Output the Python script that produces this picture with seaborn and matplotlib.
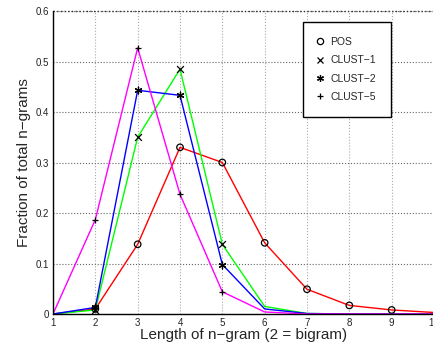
import numpy as np
import pandas as pd
import matplotlib
matplotlib.use("Agg")
import matplotlib.pyplot as plt
from matplotlib.lines import Line2D
import seaborn as sns

# ---- data ----
ngram_len = [1, 2, 3, 4, 5, 6, 7, 8, 9, 10]
pos    = [0.0, 0.010, 0.138, 0.330, 0.300, 0.141, 0.049, 0.017, 0.008, 0.003]
clust1 = [0.0, 0.008, 0.350, 0.485, 0.138, 0.015, 0.001, 0.0, 0.0, 0.0]
clust2 = [0.0, 0.013, 0.443, 0.433, 0.098, 0.010, 0.001, 0.0, 0.0, 0.0]
clust5 = [0.0, 0.187, 0.527, 0.237, 0.044, 0.004, 0.0, 0.0, 0.0, 0.0]
series_names = ["POS", "CLUST\u22121", "CLUST\u22122", "CLUST\u22125"]
line_colors = ["#ff0000", "#00ff00", "#0000ff", "#ff00ff"]
marker_shapes = ["o", "x", (6, 2, 0), "+"]
marker_ranges = [(2, 9), (2, 5), (2, 5), (2, 5)]
yticks = [0, 0.1, 0.2, 0.3, 0.4, 0.5, 0.6]
yticklabels = ["0", "0.1", "0.2", "0.3", "0.4", "0.5", "0.6"]
xticks = [1, 2, 3, 4, 5, 6, 7, 8, 9, 10]

values = [pos, clust1, clust2, clust5]
rows = []
for name, vals in zip(series_names, values):
    for x, v in zip(ngram_len, vals):
        rows.append({"len": x, "frac": v, "series": name})
df = pd.DataFrame(rows)

sns.set_style("white")
plt.rcParams["font.family"] = ["Liberation Sans", "DejaVu Sans"]

fig = plt.figure(figsize=(4.33, 3.43), dpi=100)
W, H = 433, 343
ax = fig.add_axes([53 / W, (H - 314) / H, (434 - 53) / W, (314 - 11) / H])

sns.lineplot(data=df, x="len", y="frac", hue="series", hue_order=series_names,
             palette=line_colors, linewidth=1.0, legend=False, ax=ax)

for name, shape, (lo, hi) in zip(series_names, marker_shapes, marker_ranges):
    sub = df[(df.series == name) & (df.len >= lo) & (df.len <= hi)]
    if shape == "o":
        ax.scatter(sub["len"], sub["frac"], marker="o", s=22, facecolors="none",
                   edgecolors="black", linewidths=0.9, zorder=5, clip_on=False)
    else:
        ax.scatter(sub["len"], sub["frac"], marker=shape, s=24, c="black",
                   linewidths=0.9, zorder=5, clip_on=False)

ax.set_xlim(1, 10)
ax.set_ylim(0, 0.6)
ax.set_xticks(xticks)
ax.set_xticklabels([str(t) for t in xticks], fontsize=7)
ax.set_yticks(yticks)
ax.set_yticklabels(yticklabels, fontsize=7)
ax.tick_params(direction="in", length=3, width=0.8, color="black", pad=3,
               labelcolor="#222222")

ax.grid(True, axis="x", linestyle=":", color="#aaaaaa", linewidth=0.8)
ax.grid(True, axis="y", linestyle=":", color="#666666", linewidth=0.8)

ax.spines["left"].set_color("black")
ax.spines["bottom"].set_color("black")
ax.spines["left"].set_linewidth(1.0)
ax.spines["bottom"].set_linewidth(1.0)
ax.spines["top"].set_visible(False)
ax.spines["right"].set_visible(False)
ax.axhline(0.6, color="#333333", linestyle=":", linewidth=1.0, clip_on=False)

ax.set_xlabel("Length of n\u2212gram (2 = bigram)", fontsize=11, labelpad=0)
ax.set_ylabel("Fraction of total n\u2212grams", fontsize=11, labelpad=3)

handles = []
for name, shape in zip(series_names, marker_shapes):
    if shape == "o":
        h = Line2D([], [], linestyle="none", marker="o", markerfacecolor="none",
                   markeredgecolor="black", markersize=4.5, markeredgewidth=0.9)
    else:
        h = Line2D([], [], linestyle="none", marker=shape, color="black",
                   markersize=5, markeredgewidth=0.9)
    handles.append(h)
leg = ax.legend(handles, series_names, loc="upper left",
                bbox_to_anchor=(0.656, 0.964), fontsize=7.5, frameon=True,
                fancybox=False, edgecolor="black", framealpha=1,
                labelspacing=0.8, handlelength=0.3, handletextpad=0.9,
                borderpad=1.45, borderaxespad=0)
leg.get_frame().set_linewidth(1.0)

fig.savefig("out.png", dpi=100)
